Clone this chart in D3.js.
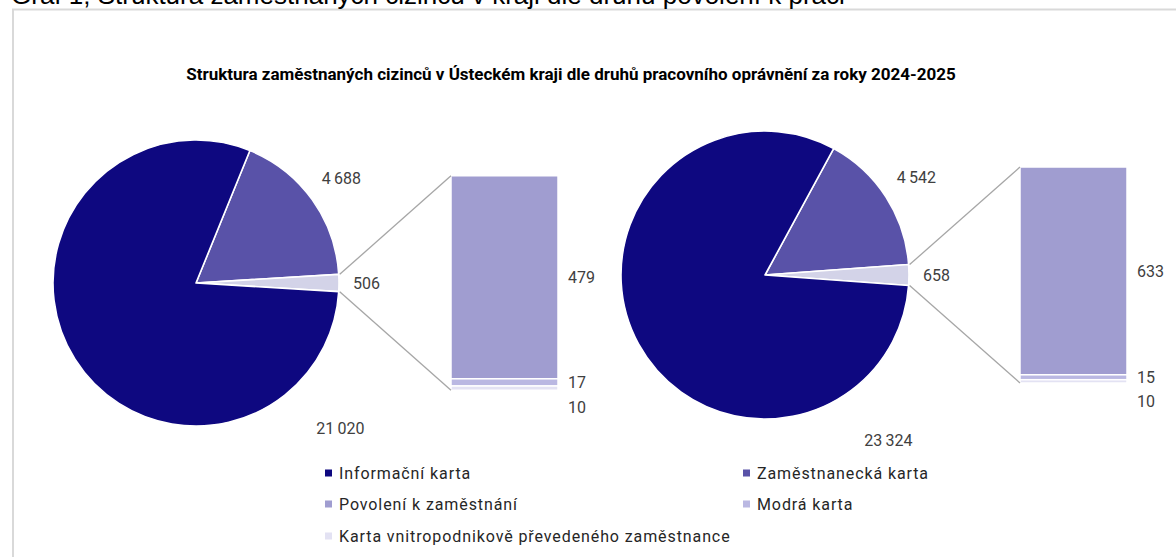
<!DOCTYPE html>
<html>
<head>
<meta charset="utf-8">
<script src="https://cdn.jsdelivr.net/npm/d3@7"></script>
<style>
    body { margin: 0; background: #fff; }
    svg { display: block; }
    .lbl { font-family: Roboto, sans-serif; font-size: 16px; fill: #404040; }
    .leg { font-family: Roboto, sans-serif; font-size: 16px; fill: #262626; letter-spacing: 0.9px; }
</style>
</head>
<body>
<div id="chart"></div>
<script>
// data
var categories = ['Informační karta', 'Zaměstnanecká karta', 'Povolení k zaměstnání', 'Modrá karta', 'Karta vnitropodnikově převedeného zaměstnance'];
var years = ['2024', '2025'];
var values2024 = [21020, 4688, 479, 17, 10];
var values2025 = [23324, 4542, 633, 15, 10];
var colors = ['#0e0880', '#5952a8', '#a09dd0', '#bab8e2', '#e3e2f3'];
var otherColor = '#d3d3e8';

var sWidth = 1176;
var sHeight = 557;

var svg = d3.select('#chart')
    .append('svg')
    .attr('width', sWidth)
    .attr('height', sHeight);

// frame of the chart (cut by window on right and bottom)
svg.append('rect')
    .attr('x', 13)
    .attr('y', 9.5)
    .attr('width', 1200)
    .attr('height', 600)
    .attr('fill', 'none')
    .attr('stroke', '#d9d9d9')
    .attr('stroke-width', 2);

// caption above, mostly scrolled out of view
svg.append('text')
    .attr('x', 11)
    .attr('y', 4)
    .style('font-family', 'Liberation Sans, Arial, sans-serif')
    .style('font-size', '26px')
    .style('fill', '#000')
    .text('Graf 1; Struktura zaměstnaných cizinců v kraji dle druhu povolení k práci');

svg.append('text')
    .attr('x', 571)
    .attr('y', 80)
    .attr('text-anchor', 'middle')
    .style('font-family', 'Roboto, sans-serif')
    .style('font-weight', '700')
    .style('font-size', '17px')
    .style('fill', '#000')
    .text('Struktura zaměstnaných cizinců v Ústeckém kraji dle druhů pracovního oprávnění za roky 2024-2025');

var fmt = d3.formatLocale({ decimal: ',', thousands: '\u2009', grouping: [3], currency: ['', ''] }).format(',d');

var charts = [
    { year: years[0], values: values2024, cx: 196, cy: 283, r: 143, bigAngle: 2.36 },
    { year: years[1], values: values2025, cx: 765, cy: 275, r: 144, bigAngle: 2.50 }
];

function drawBarOfPie(c) {
    var g = svg.append('g')
        .attr('transform', `translate(${c.cx}, ${c.cy})`);

    var other = d3.sum(c.values.slice(2));
    var pieData = [
        { name: categories[1], value: c.values[1], color: colors[1] },
        { name: 'other', value: other, color: otherColor },
        { name: categories[0], value: c.values[0], color: colors[0] }
    ];
    var total = d3.sum(pieData, d => d.value);
    var toAngle = d3.scaleLinear().domain([0, total]).range([0, 2 * Math.PI]);
    var half = toAngle(other) / 2;
    var start = Math.PI / 2 - half - toAngle(c.values[1]);

    var pie = d3.pie()
        .sort(null)
        .value(d => d.value)
        .startAngle(start)
        .endAngle(start + 2 * Math.PI);

    var arc = d3.arc().innerRadius(0).outerRadius(c.r);
    var arcs = pie(pieData);

    g.selectAll('path.slice')
        .data(arcs)
        .enter()
        .append('path')
        .attr('class', 'slice')
        .attr('d', arc)
        .attr('fill', d => d.data.color)
        .attr('stroke', '#fff')
        .attr('stroke-width', 1.6)
        .attr('stroke-linejoin', 'round');

    // bar on the right
    var barX = 255;
    var barW = 107;
    var barH = c.r * 1.5;
    var y = d3.scaleLinear().domain([0, other]).range([-barH / 2, barH / 2]);

    var stack = [];
    var acc = 0;
    for (var i = 2; i < c.values.length; i++) {
        stack.push({ v: c.values[i], y0: acc, y1: acc + c.values[i], color: colors[i] });
        acc += c.values[i];
    }

    g.selectAll('rect.seg')
        .data(stack)
        .enter()
        .append('rect')
        .attr('class', 'seg')
        .attr('x', barX)
        .attr('width', barW)
        .attr('y', d => y(d.y0))
        .attr('height', d => y(d.y1) - y(d.y0))
        .attr('fill', d => d.color)
        .attr('stroke', '#fff')
        .attr('stroke-width', 1.5);

    // connector lines
    var a0 = Math.PI / 2 - half;
    var a1 = Math.PI / 2 + half;
    var pTop = [c.r * Math.sin(a0) + 1, -c.r * Math.cos(a0)];
    var pBot = [c.r * Math.sin(a1) + 1, -c.r * Math.cos(a1)];
    g.append('line')
        .attr('x1', pTop[0]).attr('y1', pTop[1])
        .attr('x2', barX).attr('y2', y(0))
        .attr('stroke', '#a6a6a6').attr('stroke-width', 1.3);
    g.append('line')
        .attr('x1', pBot[0]).attr('y1', pBot[1])
        .attr('x2', barX).attr('y2', y(other))
        .attr('stroke', '#a6a6a6').attr('stroke-width', 1.3);

    // pie labels
    var zamArc = d3.arc().innerRadius(c.r + 36).outerRadius(c.r + 36);
    var zc = zamArc.centroid(arcs[0]);
    g.append('text')
        .attr('class', 'lbl')
        .attr('x', zc[0])
        .attr('y', zc[1])
        .attr('dy', '0.35em')
        .attr('text-anchor', 'middle')
        .text(fmt(c.values[1]));

    g.append('text')
        .attr('class', 'lbl')
        .attr('x', c.r + 14)
        .attr('y', 0)
        .attr('dy', '0.35em')
        .text(fmt(other));

    var bigR = c.r + 62;
    g.append('text')
        .attr('class', 'lbl')
        .attr('x', bigR * Math.sin(c.bigAngle))
        .attr('y', -bigR * Math.cos(c.bigAngle))
        .attr('dy', '0.35em')
        .attr('text-anchor', 'middle')
        .text(fmt(c.values[0]));

    // bar labels, pushed down when they collide
    var last = -Infinity;
    stack.forEach(function(d) {
        var ly = Math.max((y(d.y0) + y(d.y1)) / 2, last + 24.5);
        last = ly;
        g.append('text')
            .attr('class', 'lbl')
            .attr('x', barX + barW + 10)
            .attr('y', ly)
            .attr('dy', '0.35em')
            .text(fmt(d.v));
    });
}

charts.forEach(drawBarOfPie);

// legend
var legX = [325, 743];
var legY = [473, 504, 536];
var legend = svg.append('g');
categories.forEach(function(name, i) {
    var lx = legX[i % 2];
    var ly = legY[Math.floor(i / 2)];
    legend.append('rect')
        .attr('x', lx)
        .attr('y', ly - 3.5)
        .attr('width', 7)
        .attr('height', 7)
        .attr('fill', colors[i]);
    legend.append('text')
        .attr('class', 'leg')
        .attr('x', lx + 14)
        .attr('y', ly)
        .attr('dy', '0.35em')
        .text(name);
});
</script>
</body>
</html>
